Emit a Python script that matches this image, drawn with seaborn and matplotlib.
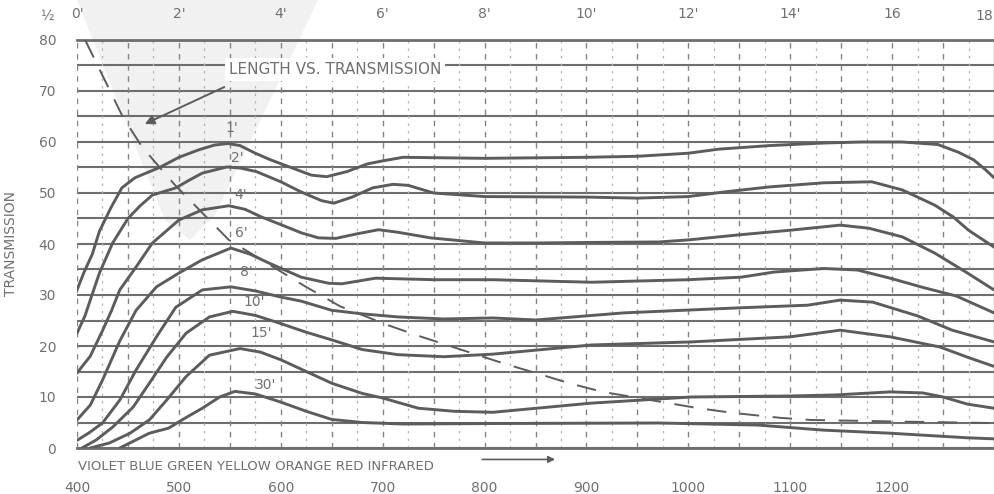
import numpy as np
import pandas as pd
import matplotlib
matplotlib.use("Agg")
import matplotlib.pyplot as plt
import matplotlib.transforms as mtransforms
from matplotlib.patches import Polygon
import seaborn as sns

# ---------------- data ----------------
lengths = ["1'", "2'", "4'", "6'", "8'", "10'", "15'", "30'"]

nm_1 = [400, 407, 415, 422, 433, 444, 457, 481, 500, 520, 535, 548, 560, 575, 590, 610, 630, 645, 665, 685, 700, 720, 800, 900, 950, 1000, 1030, 1080, 1133, 1170, 1210, 1245, 1265, 1280, 1292, 1300]
t_1 = [31, 34.5, 38, 42.5, 47, 51, 53, 55, 57, 58.5, 59.4, 59.7, 59.3, 57.8, 56.5, 55, 53.5, 53.2, 54.2, 55.7, 56.3, 57, 56.8, 57, 57.2, 57.8, 58.6, 59.3, 59.8, 60, 60, 59.5, 58, 56.5, 54.5, 53]

nm_2 = [400, 408, 413, 422, 435, 450, 462, 474, 497, 510, 523, 547, 560, 576, 600, 620, 640, 652, 670, 690, 710, 725, 750, 800, 900, 950, 1000, 1035, 1080, 1133, 1180, 1210, 1242, 1260, 1275, 1300]
t_2 = [22.5, 26, 29, 34.3, 40.2, 45, 47.5, 49.6, 51, 52.5, 53.9, 55.1, 54.9, 54.2, 52.2, 50.2, 48.5, 48, 49.2, 51, 51.7, 51.5, 50, 49.3, 49.2, 49, 49.3, 50.2, 51.2, 52, 52.2, 50.6, 47.6, 45.3, 42.7, 39.4]

nm_4 = [400, 413, 425, 434, 442, 458, 474, 500, 523, 549, 565, 581, 600, 620, 637, 654, 675, 696, 715, 747, 800, 850, 900, 971, 1000, 1050, 1100, 1149, 1177, 1210, 1242, 1274, 1300]
t_4 = [14.7, 18, 23, 27, 31, 35.5, 40.2, 44.7, 46.7, 47.5, 46.8, 45.3, 43.8, 42.2, 41.2, 41.1, 42, 42.8, 42.3, 41.2, 40.2, 40.2, 40.3, 40.4, 40.8, 41.8, 42.7, 43.7, 43.1, 41.4, 38.2, 34.3, 31]

nm_6 = [400, 413, 425, 442, 458, 478, 500, 523, 551, 570, 588, 620, 647, 660, 693, 750, 808, 905, 1000, 1052, 1084, 1133, 1166, 1198, 1230, 1263, 1300]
t_6 = [5.5, 8.4, 13.3, 21, 27, 31.6, 34.3, 36.9, 39.2, 38, 36.3, 33.5, 32.3, 32.2, 33.3, 33, 33, 32.5, 33, 33.5, 34.5, 35.2, 34.9, 33.3, 31.5, 29.8, 26.5]

nm_8 = [400, 412, 425, 442, 458, 478, 497, 523, 551, 575, 600, 620, 650, 680, 715, 760, 808, 850, 937, 1052, 1117, 1149, 1181, 1225, 1259, 1300]
t_8 = [1.5, 3, 4.9, 9.4, 15.3, 21.8, 27.6, 31, 31.6, 30.8, 29.6, 28.8, 27, 26.3, 25.7, 25.3, 25.5, 25.1, 26.5, 27.5, 28, 29, 28.6, 25.9, 23.1, 20.8]

nm_10 = [405, 419, 435, 455, 471, 488, 507, 530, 553, 575, 600, 625, 650, 680, 715, 760, 808, 905, 1003, 1100, 1149, 1198, 1247, 1274, 1300]
t_10 = [0, 1.6, 4.1, 8, 12.7, 17.8, 22.5, 25.7, 26.8, 26, 24.4, 22.7, 21.2, 19.3, 18.3, 17.9, 18.4, 20.2, 20.8, 21.8, 23.1, 21.8, 19.8, 17.8, 16]

nm_15 = [413, 432, 452, 471, 488, 507, 530, 560, 580, 600, 625, 650, 680, 700, 735, 770, 808, 905, 1003, 1100, 1144, 1198, 1230, 1250, 1274, 1300]
t_15 = [0, 1, 2.9, 5.5, 9.4, 14, 18.2, 19.5, 18.8, 17.3, 15, 12.7, 10.7, 9.8, 7.8, 7.2, 7, 8.8, 10, 10.2, 10.4, 11, 10.8, 10, 8.6, 7.8]

nm_30 = [442, 458, 471, 490, 503, 523, 540, 555, 575, 600, 625, 650, 680, 720, 808, 971, 1068, 1133, 1198, 1274, 1300]
t_30 = [0, 1.6, 2.9, 3.9, 5.5, 7.8, 10, 11.1, 10.6, 9, 7.2, 5.6, 5, 4.7, 4.8, 4.9, 4.5, 3.5, 2.9, 2, 1.8]

# dashed guide curve
dash_nm = [408, 432, 445, 464, 496, 549, 623, 658, 705, 735, 820, 857, 883, 916, 1010, 1043, 1091, 1120, 1203, 1295]
dash_t = [80, 70.2, 64.9, 59, 51.6, 40.8, 31.8, 27.8, 24.1, 22, 16.5, 14.3, 12.7, 11, 7.8, 6.9, 5.9, 5.5, 5.2, 4.9]

# curve label positions
label_nm = [552, 557, 561, 561, 566, 574, 581, 585]
label_t = [62.7, 56.9, 49.6, 42.2, 34.5, 28.6, 22.5, 12.4]

bottom_ticks = [400, 500, 600, 700, 800, 900, 1000, 1100, 1200, 1300]
bottom_labels = ["400", "500", "600", "700", "800", "900", "1000", "1100", "1200", ""]
top_labels = ["0'", "2'", "4'", "6'", "8'", "10'", "12'", "14'", "16", ""]
top_last_label = "18"
y_ticks = [0, 10, 20, 30, 40, 50, 60, 70, 80]

# ---------------- build long table ----------------
series = [(nm_1, t_1), (nm_2, t_2), (nm_4, t_4), (nm_6, t_6),
          (nm_8, t_8), (nm_10, t_10), (nm_15, t_15), (nm_30, t_30)]
frames = []
for name, (xs, ys) in zip(lengths, series):
    frames.append(pd.DataFrame({"wavelength": xs, "transmission": ys, "length": name}))
df = pd.concat(frames, ignore_index=True)
df_dash = pd.DataFrame({"wavelength": dash_nm, "transmission": dash_t})

# ---------------- figure ----------------
sns.set_theme(style="white")
plt.rcParams["font.family"] = ["DejaVu Sans"]

INK = "#5c5c5c"
TXT = "#707070"
GRID = "#6e6e6e"

fig = plt.figure(figsize=(9.95, 4.94), dpi=100)
ax = fig.add_axes([77 / 995, 46 / 494, 917 / 995, 408 / 494])
ax.set_facecolor("none")

# faint scanner wedge in the background
wedge = Polygon([(77 / 995, 1.0), (318 / 995, 1.0), (215 / 995, 1 - 215 / 494),
                 (190 / 995, 1 - 240 / 494), (165 / 995, 1 - 220 / 494)],
                closed=True, transform=fig.transFigure, facecolor="#f1f1f1",
                edgecolor="none", zorder=-5)
fig.patches.append(wedge)

sns.lineplot(data=df, x="wavelength", y="transmission", hue="length",
             hue_order=lengths, palette=[INK] * len(lengths), estimator=None,
             legend=False, linewidth=2.1, ax=ax, zorder=3)
sns.lineplot(data=df_dash, x="wavelength", y="transmission", estimator=None,
             color=INK, linewidth=1.4, ax=ax, zorder=3)
ax.lines[-1].set_dashes([10, 7])

ax.set_xlim(400, 1300)
ax.set_ylim(0, 80)

# grid
ax.set_yticks(y_ticks)
ax.set_yticks(np.arange(0, 81, 5), minor=True)
ax.set_xticks(bottom_ticks)
ax.set_xticklabels(bottom_labels)
ax.grid(axis="y", which="both", color=GRID, linewidth=1.5, linestyle="-", zorder=1)
for gx in np.arange(400, 1300, 25):
    if gx % 50 == 0:
        ax.axvline(gx, color="#858585", linewidth=1.0, linestyle=(0, (4, 4)), zorder=1)
    else:
        ax.axvline(gx, color="#b5b5b5", linewidth=0.9, linestyle=(0, (2, 4)), zorder=1)
ax.set_axisbelow(True)

ax.tick_params(axis="both", which="both", length=0)
ax.tick_params(axis="x", pad=24, labelsize=10, labelcolor=TXT)
ax.tick_params(axis="y", pad=15, labelsize=10, labelcolor=TXT)

ax.spines["left"].set_visible(False)
ax.spines["top"].set_color(GRID)
ax.spines["top"].set_linewidth(2)
ax.spines["bottom"].set_color(GRID)
ax.spines["bottom"].set_linewidth(2)
ax.spines["right"].set_color("#8a8a8a")
ax.spines["right"].set_linewidth(1)

ax.set_xlabel("")
ax.set_ylabel("TRANSMISSION", fontsize=10, color=TXT)
ax.yaxis.set_label_coords((18 - 77) / 917, 0.5)

# top length axis
sec = ax.secondary_xaxis("top")
sec.set_xticks(bottom_ticks)
sec.set_xticklabels(top_labels)
sec.tick_params(length=0, pad=14, labelsize=10, labelcolor=TXT)
sec.spines["top"].set_visible(False)
fig.text(47 / 995, 1 - 16 / 494, "½", fontsize=10, color=TXT, ha="center", va="center")
fig.text(993 / 995, 1 - 16 / 494, top_last_label, fontsize=10, color=TXT, ha="right", va="center")

# curve labels
for name, lx, ly in zip(lengths, label_nm, label_t):
    ax.text(lx, ly, name, fontsize=10, color=TXT, ha="center", va="center", zorder=4)

# title inside plot
ax.text(549, 74.2, "LENGTH VS. TRANSMISSION", fontsize=11, color=TXT, ha="left",
        va="center", zorder=4,
        bbox=dict(facecolor="white", edgecolor="none", pad=3))

# arrow from title to dashed curve
ax.annotate("", xy=(464, 63.3), xytext=(547, 71),
            arrowprops=dict(arrowstyle="-|>", color=INK, lw=1.4, mutation_scale=14),
            zorder=4)

# spectrum colour names and arrow below axis
trans = mtransforms.blended_transform_factory(ax.transData, ax.transAxes)
ax.text(401, -0.045, "VIOLET BLUE GREEN YELLOW ORANGE RED INFRARED", transform=trans,
        fontsize=9.5, color=TXT, ha="left", va="center")
ax.annotate("", xy=(872, -0.028), xytext=(795, -0.028), xycoords=trans, textcoords=trans,
            arrowprops=dict(arrowstyle="-|>", color=INK, lw=1.2, mutation_scale=10),
            annotation_clip=False)

fig.savefig("out.png", dpi=100)
